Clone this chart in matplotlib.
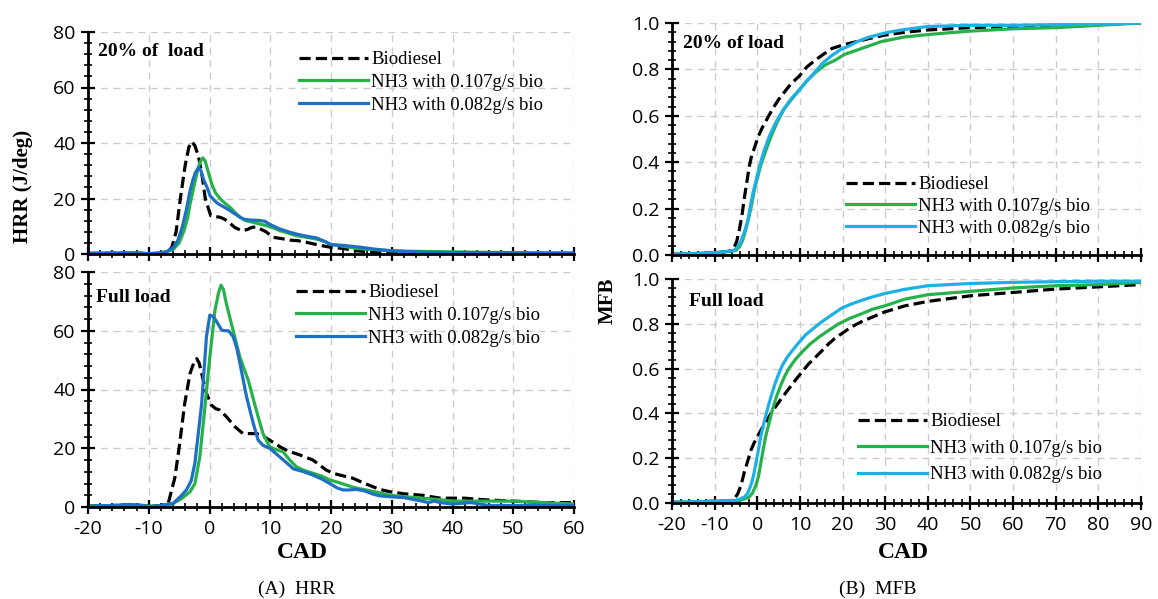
import numpy as np
import matplotlib
matplotlib.use('Agg')
import matplotlib.pyplot as plt
from matplotlib.ticker import MultipleLocator, FormatStrFormatter

plt.rcParams['font.family'] = ['Open Sans', 'DejaVu Sans']
plt.rcParams['axes.unicode_minus'] = False
SERIF = 'Liberation Serif'

W, H = 1158, 599

labels = ['Biodiesel', 'NH3 with 0.107g/s bio', 'NH3 with 0.082g/s bio']

# ---- HRR, 20% of load ----
hrr20_bio_x = [-20, -15, -12, -10, -8, -7, -6.2, -5.5, -4.8, -4, -3.4, -2.9, -2.4, -1.8, -1.2, -0.7, 0.2, 1, 1.8, 2.5,
               3.2, 4.2, 5.3, 6.2, 7, 7.7, 8.4, 9.3, 10.5, 12, 13.2, 14.5, 16, 18, 20, 22, 24, 26, 28, 30, 35, 40, 45,
               50, 55, 60]
hrr20_bio_y = [0.2, 0.3, 0.3, 0.1, 0.2, 0.5, 2.4, 8, 20, 32, 38.5, 40.5, 39, 35, 28, 20, 13.8, 13.5, 13.2, 12.5,
               11.4, 9.5, 8.4, 8.8, 9.6, 9.8, 9, 8, 6, 5.5, 5, 4.8, 4.2, 3.2, 2.4, 2, 1.2, 0.8, 0.4, 0.3, 0.3, 0.2, 0.3,
               0.2, 0.2, 0.2]
hrr20_g_x = [-20, -15, -12, -10, -8, -7, -5.9, -5, -4.2, -3.6, -3.2, -2.6, -2.1, -1.6, -1.1, -0.7, -0.4, 0.4, 1, 1.8,
             2.6, 3.4, 4.2, 5, 6, 7.2, 8.3, 9.4, 10.5, 11.6, 13, 14.3, 16, 17.6, 19, 20, 22, 24.2, 27, 29.7, 33, 36,
             40, 45, 50, 55, 60]
hrr20_g_y = [0.3, 0.4, 0.4, 0.1, 0.5, 0.9, 1.8, 4, 8.4, 13, 18, 24, 28.8, 33, 34.6, 33.5, 31, 25, 22, 19.8,
             18.2, 16.8, 15, 13.2, 12, 11.4, 10.8, 10.2, 9.4, 8.4, 7.5, 6.6, 6, 5.4, 4.5, 3.4, 2.8, 2, 1.6, 1.2, 1, 0.9,
             0.8, 0.6, 0.5, 0.4, 0.4]
hrr20_b_x = [-20, -15, -12, -10, -8, -7, -5.9, -5.2, -4.5, -3.8, -3.2, -2.7, -2.3, -1.8, -1.4, -1, -0.4, 0.1, 0.8,
             1.5, 2.5, 3.4, 4.5, 5.6, 6.4, 7.2, 8.2, 9.1, 10, 11.6, 13, 14.3, 16, 17.6, 19, 20, 22.5, 25, 27, 29.7,
             33, 36, 40, 45, 50, 55, 60]
hrr20_b_y = [0.2, 0.3, 0.4, 0.1, 0.4, 0.8, 2.4, 5, 9.6, 16, 22.8, 27, 29.4, 31.2, 30, 27, 24, 21, 19.3,
             18, 16.8, 15.6, 14, 12.6, 12.3, 12.2, 12.1, 11.8, 10.6, 9, 8, 7.2, 6.4, 5.8, 4.5, 3.4, 3, 2.4, 1.8, 1.2,
             0.8, 0.6, 0.5, 0.5, 0.4, 0.3, 0.3]

# ---- HRR, full load ----
hrrF_bio_x = [-20, -16, -13, -11, -10, -8, -6.8, -5.7, -4.9, -4.1, -3.2, -2.6, -2.1, -1.7, -1.3, -0.5, 0.3, 1, 1.7,
              2.8, 3.5, 4.2, 5.5, 6.5, 7.7, 8.5, 9.4, 10.5, 11.6, 13, 14.9, 17, 18, 19.2, 20.3, 21.4, 23.6, 25, 26.9,
              28, 29.7, 32, 35, 38, 42, 45, 50, 55, 60]
hrrF_bio_y = [0.3, 0.5, 0.8, 0.5, 0.2, 0.5, 1.2, 10, 21.7, 35, 45.5, 49, 50.5, 49, 45.5, 38.7, 34.7, 33.5, 33,
              30.7, 29, 27.3, 25, 25, 25, 24.5, 23.4, 22, 20.5, 19, 17.7, 16, 14.5, 12.6, 11.5, 10.9, 9.8, 8.5, 6.9,
              6, 5.2, 4.5, 4, 3, 3, 2.5, 2, 1.5, 1.5]
hrrF_g_x = [-20, -16, -13, -11, -10, -8, -6, -4.5, -3.2, -2.4, -1.6, -0.8, 0.05, 0.9, 1.5, 1.9, 2.3, 2.8, 3.9, 5,
            6.4, 7.7, 8.8, 9.9, 11, 12.1, 13.2, 14.3, 15.5, 17, 18.5, 19.8, 21, 22.5, 24, 25.8, 28, 29.7, 32, 35, 38,
            40, 45, 50, 55, 60]
hrrF_g_y = [0.3, 0.5, 0.8, 0.5, 0.2, 0.5, 1.2, 3, 5.2, 8, 17, 33, 51, 67, 73, 75.5, 74, 69, 60, 51,
            43, 33, 25, 20.5, 19.5, 18.8, 16, 13.7, 12.5, 11.5, 10.5, 9.2, 8.5, 7.5, 6.5, 5.8, 4.8, 4, 3.5, 3, 2.5,
            2, 2, 2, 1.5, 1]
hrrF_b_x = [-20, -16, -13, -11, -10, -8, -6, -4.8, -3.8, -3, -2.4, -1.3, -0.5, 0.05, 0.5, 0.9, 1.5, 2, 2.6, 3.1,
            3.9, 4.5, 5, 6.1, 7.2, 8, 8.8, 9.9, 11.6, 13, 13.8, 15.5, 17, 18.5, 19.8, 21, 22, 23, 24.2, 25.5, 26.9,
            28, 29.7, 32, 35, 36, 37, 38, 40, 43, 46, 50, 55, 60]
hrrF_b_y = [0.3, 0.5, 0.8, 0.5, 0.2, 0.5, 1.2, 3.5, 5.8, 9, 15, 35, 58, 65.3, 65, 64, 62, 60.2, 60, 60,
            58, 54, 49, 37.5, 28.5, 22.8, 21, 20, 17, 14.5, 13, 12, 10.9, 9.5, 8, 6.5, 5.8, 5.8, 6, 5.5, 4.4,
            3.8, 3.5, 3.2, 2, 1.5, 2, 1.5, 1, 1.5, 0.5, 0.5, 0.5, 0.5]

# ---- MFB, 20% of load ----
mfb20_bio_x = [-20, -15, -10, -7, -5.7, -4.8, -4.2, -3.6, -3, -2.4, -1.9, -1.3, -0.7, 0.2, 1.2, 2.4, 3.6, 5, 6.7, 8,
               9.8, 11.6, 13.6, 15.5, 17.5, 20, 22.9, 26, 29.9, 34.6, 40, 50, 60, 70, 80, 90]
mfb20_bio_y = [0.003, 0.006, 0.01, 0.015, 0.02, 0.06, 0.11, 0.17, 0.25, 0.32, 0.38, 0.43, 0.46, 0.51, 0.55, 0.59,
               0.63, 0.67, 0.71, 0.74, 0.77, 0.81, 0.84, 0.865, 0.89, 0.905, 0.918, 0.932, 0.948, 0.96, 0.97, 0.98,
               0.985, 0.99, 0.995, 1.0]
mfb20_g_x = [-20, -15, -10, -7, -5, -4.2, -3.4, -2.7, -2, -1.3, -0.7, 0.85, 2, 3.2, 4.6, 6.3, 8, 9.8, 11.6, 13.6,
             16, 18.3, 20.5, 22.9, 26, 29.1, 34.6, 40, 45, 50, 60, 70, 80, 90]
mfb20_g_y = [0.003, 0.006, 0.01, 0.015, 0.02, 0.035, 0.065, 0.11, 0.16, 0.22, 0.28, 0.39, 0.45, 0.51, 0.57, 0.63,
             0.67, 0.71, 0.75, 0.786, 0.82, 0.84, 0.865, 0.88, 0.9, 0.92, 0.94, 0.95, 0.958, 0.965, 0.975, 0.98,
             0.99, 1.0]
mfb20_b_x = [-20, -15, -10, -7, -5.5, -4.6, -3.8, -3, -2.2, -1.1, 0.5, 1.6, 2.8, 4.3, 5.9, 7.8, 9.8, 11.6, 13.6,
             15.5, 17.5, 19.5, 21.4, 23.5, 26, 28.5, 30.7, 34.6, 40, 50, 60, 70, 80, 90]
mfb20_b_y = [0.003, 0.006, 0.01, 0.015, 0.02, 0.035, 0.06, 0.1, 0.15, 0.26, 0.38, 0.45, 0.51, 0.57, 0.62, 0.67,
             0.71, 0.75, 0.79, 0.83, 0.86, 0.885, 0.9, 0.92, 0.938, 0.95, 0.96, 0.972, 0.985, 0.99, 0.99, 0.993,
             0.995, 1.0]

# ---- MFB, full load ----
mfbF_bio_x = [-20, -15, -10, -7, -5.7, -4.6, -3.8, -3, -2.2, -1.5, -0.7, 0.1, 1, 2, 3.2, 4.3, 5.8, 7.4, 9, 10.5,
              12, 13.6, 15.2, 16.7, 18.2, 19.8, 22, 24.5, 27, 29.9, 34.6, 40, 50, 60, 70, 80, 90]
mfbF_bio_y = [0.003, 0.005, 0.008, 0.01, 0.012, 0.04, 0.08, 0.14, 0.19, 0.235, 0.27, 0.30, 0.33, 0.36, 0.40, 0.43,
              0.47, 0.51, 0.55, 0.585, 0.62, 0.65, 0.68, 0.71, 0.735, 0.756, 0.785, 0.81, 0.83, 0.853, 0.88, 0.9,
              0.925, 0.94, 0.955, 0.965, 0.975]
mfbF_g_x = [-20, -15, -10, -7, -5, -4.2, -3, -1.9, -1.1, -0.3, 0.3, 0.85, 1.4, 2, 2.8, 3.6, 4.5, 5.5, 6.4, 7.4,
            8.9, 10.5, 12.4, 14.4, 16.7, 19.1, 21.8, 24.5, 27, 29.9, 34.6, 40, 50, 60, 70, 80, 90]
mfbF_g_y = [0.003, 0.005, 0.008, 0.01, 0.01, 0.012, 0.018, 0.027, 0.045, 0.08, 0.12, 0.18, 0.24, 0.30, 0.36, 0.42,
            0.475, 0.525, 0.565, 0.6, 0.64, 0.674, 0.71, 0.74, 0.77, 0.80, 0.825, 0.845, 0.865, 0.88, 0.91, 0.93,
            0.945, 0.96, 0.97, 0.975, 0.985]
mfbF_b_x = [-20, -15, -10, -7, -5, -4, -3, -2.2, -1.5, -0.9, -0.3, 0.3, 0.85, 1.6, 2.4, 3.3, 4.3, 5.1, 5.9, 7, 8.2,
            9.7, 11.3, 13.2, 15.2, 17.5, 19.8, 22, 24.5, 27, 29.9, 34.6, 40, 50, 60, 70, 80, 90]
mfbF_b_y = [0.003, 0.005, 0.008, 0.01, 0.012, 0.018, 0.027, 0.045, 0.08, 0.12, 0.18, 0.24, 0.30, 0.36, 0.42, 0.48,
            0.54, 0.58, 0.615, 0.65, 0.68, 0.715, 0.75, 0.78, 0.81, 0.84, 0.87, 0.888, 0.905, 0.92, 0.935, 0.954,
            0.97, 0.98, 0.985, 0.988, 0.99, 0.99]

GREEN = '#27b14a'
BLUE = '#1f6fc4'
CYAN = '#1db0e6'


def box(x0, y0, x1, y1):
    # pixel box (left, top, right, bottom) -> figure fraction rect
    return [x0 / W, 1 - y1 / H, (x1 - x0) / W, (y1 - y0) / H]


def style(ax, xlim, ylim, xmaj, xmin, ymaj, ymin, yfmt, show_x):
    ax.set_xlim(*xlim)
    ax.set_ylim(*ylim)
    ax.xaxis.set_major_locator(MultipleLocator(xmaj))
    ax.xaxis.set_minor_locator(MultipleLocator(xmin))
    ax.yaxis.set_major_locator(MultipleLocator(ymaj))
    ax.yaxis.set_minor_locator(MultipleLocator(ymin))
    ax.spines['top'].set_visible(False)
    ax.spines['right'].set_visible(False)
    for s in ('left', 'bottom'):
        ax.spines[s].set_linewidth(2)
    ax.tick_params(which='major', direction='inout', length=10, width=1.6, labelsize=14, pad=4)
    ax.tick_params(which='minor', direction='inout', length=6, width=1.2)
    ax.grid(True, which='major', linestyle=(0, (5, 4)), color='#cccccc', linewidth=1)
    ax.set_axisbelow(True)
    if yfmt:
        ax.yaxis.set_major_formatter(FormatStrFormatter(yfmt))
    if not show_x:
        ax.tick_params(axis='x', labelbottom=False)


fig = plt.figure(figsize=(W / 100, H / 100), dpi=100)

ax1 = fig.add_axes(box(88, 32, 574, 254))
ax2 = fig.add_axes(box(88, 272, 574, 507))
ax3 = fig.add_axes(box(672, 23, 1141, 255))
ax4 = fig.add_axes(box(672, 279, 1141, 503))

panels = [
    (ax1, [(hrr20_bio_x, hrr20_bio_y), (hrr20_g_x, hrr20_g_y), (hrr20_b_x, hrr20_b_y)], BLUE),
    (ax2, [(hrrF_bio_x, hrrF_bio_y), (hrrF_g_x, hrrF_g_y), (hrrF_b_x, hrrF_b_y)], BLUE),
    (ax3, [(mfb20_bio_x, mfb20_bio_y), (mfb20_g_x, mfb20_g_y), (mfb20_b_x, mfb20_b_y)], CYAN),
    (ax4, [(mfbF_bio_x, mfbF_bio_y), (mfbF_g_x, mfbF_g_y), (mfbF_b_x, mfbF_b_y)], CYAN),
]

for ax, series, third in panels:
    (bx, by), (gx, gy), (cx, cy) = series
    ax.plot(bx, by, color='black', linestyle=(0, (3.5, 1.6)), linewidth=2.3, label=labels[0])
    ax.plot(gx, gy, color=GREEN, linewidth=2.3, label=labels[1])
    ax.plot(cx, cy, color=third, linewidth=2.3, label=labels[2])

style(ax1, (-20, 60), (0, 80), 10, 2, 20, 4, None, False)
style(ax2, (-20, 60), (0, 80), 10, 2, 20, 4, None, True)
style(ax3, (-20, 90), (0, 1), 10, 2, 0.2, 0.04, '%.1f', False)
style(ax4, (-20, 90), (0, 1), 10, 2, 0.2, 0.04, '%.1f', True)

# legends
leg_pos = [(ax1, 299, 51, 0.3), (ax2, 296, 284, 0.3), (ax3, 846, 176, 0.25), (ax4, 858, 413, 0.5)]
for ax, lx, ly, sp in leg_pos:
    ax.legend(loc='upper left', bbox_to_anchor=(lx / W, 1 - ly / H), bbox_transform=fig.transFigure,
              frameon=False, borderpad=0, borderaxespad=0, handlelength=3.7, handletextpad=0.15,
              labelspacing=sp, prop={'family': SERIF, 'size': 13.5})

# panel annotations
notes = [(98, 52, '20% of  load'), (96, 297, 'Full load'), (683, 43, '20% of load'), (689, 302, 'Full load')]
for nx, ny, txt in notes:
    fig.text(nx / W, 1 - ny / H, txt, family=SERIF, weight='bold', fontsize=14, va='center', ha='left')

# axis titles
fig.text(23 / W, 1 - 186 / H, 'HRR (J/deg)', family=SERIF, weight='bold', fontsize=15,
         rotation=90, ha='center', va='center')
fig.text(608 / W, 1 - 301 / H, 'MFB', family=SERIF, weight='bold', fontsize=15,
         rotation=90, ha='center', va='center')
fig.text(302 / W, 1 - 552 / H, 'CAD', family=SERIF, weight='bold', fontsize=17, ha='center', va='center')
fig.text(903 / W, 1 - 552 / H, 'CAD', family=SERIF, weight='bold', fontsize=17, ha='center', va='center')

fig.text(297 / W, 1 - 589 / H, '(A)  HRR', family=SERIF, fontsize=14, ha='center', va='center')
fig.text(878 / W, 1 - 589 / H, '(B)  MFB', family=SERIF, fontsize=14, ha='center', va='center')

fig.savefig('out.png', dpi=100)
